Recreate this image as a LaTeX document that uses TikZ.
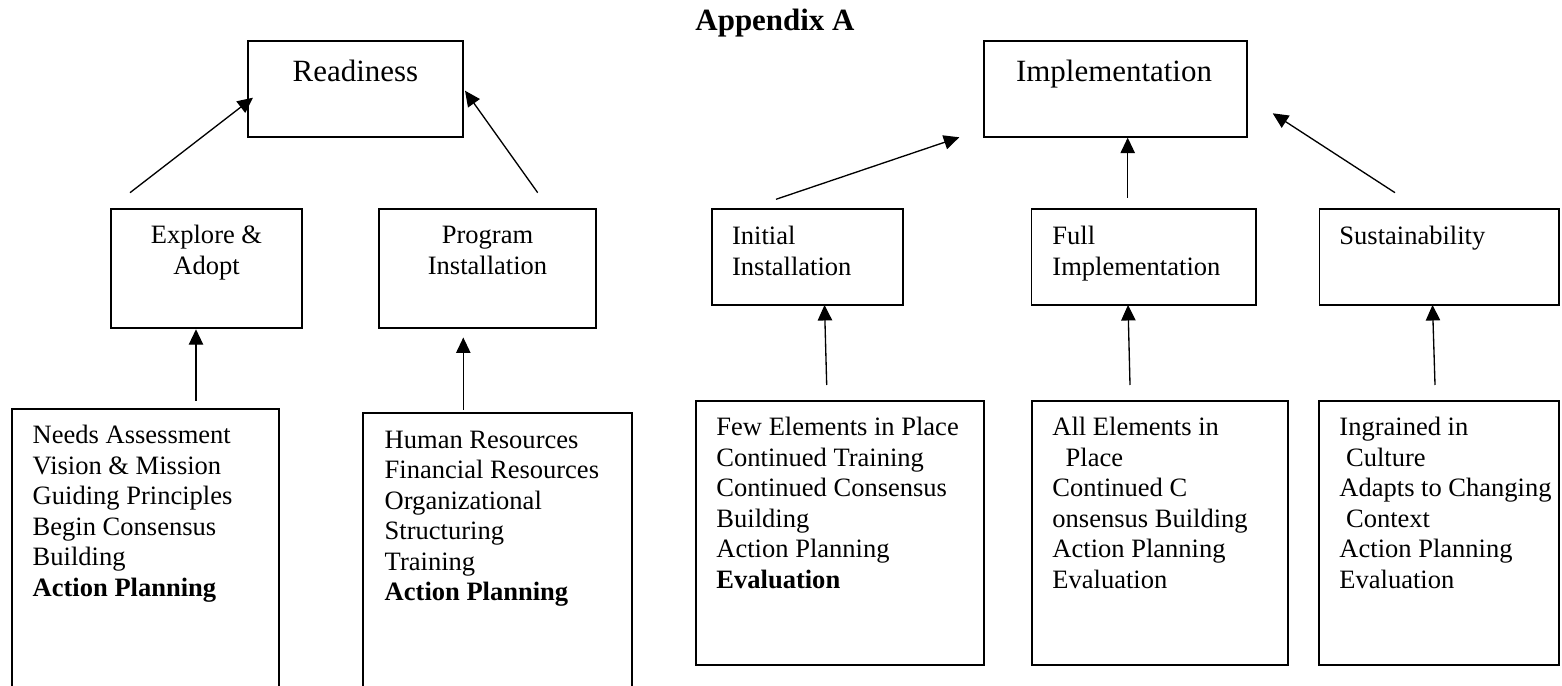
\documentclass[tikz,border=0pt]{standalone}
\usepackage{fontspec}
\setmainfont{Liberation Serif}
\usetikzlibrary{arrows.meta,fit}
\begin{document}
\begin{tikzpicture}[x=0.4525pt,y=-0.4525pt,
  box/.style={draw, line width=0.85pt, inner sep=0pt},
  arr/.style={-{Triangle[length=7pt,width=6.5pt]}, line width=0.6pt},
  body/.style={font=\fontsize{12}{13.8}\selectfont, inner sep=0pt},
  title/.style={font=\fontsize{14}{16}\selectfont, inner sep=0pt, anchor=base}]
\useasboundingbox (0,0) rectangle (1562,686);

% heading
\node[title, font=\fontsize{14}{16}\selectfont\bfseries] (app) at (775,31) {Appendix A};

% top boxes
\node[box, fit={(247.7,40.7) (463,136.7)}] (ready) {};
\node[box, fit={(983.7,40.7) (1247.3,136.7)}] (impl) {};
\node[title] (readyt) at (355.4,81.7) {Readiness};
\node[title] (implt) at (1114,81.7) {Implementation};

% middle boxes
\node[box, fit={(111,209) (302,328.3)}] (explore) {};
\node[box, fit={(379.3,209) (596,328.3)}] (program) {};
\node[box, fit={(711.7,209.3) (903.3,305)}] (initial) {};
\node[box, fit={(1031.5,209.3) (1255.8,305)}] (full) {};
\node[box, fit={(1319.5,209.3) (1559.3,305)}] (sust) {};

\node[body, anchor=base] (exploret) at (206.5,244) {\begin{tabular}[t]{@{}c@{}}Explore \&\\Adopt\end{tabular}};
\node[body, anchor=base] (programt) at (487.5,244) {\begin{tabular}[t]{@{}c@{}}Program\\Installation\end{tabular}};
\node[body, anchor=base west] (initialt) at (731.7,245) {\begin{tabular}[t]{@{}l@{}}Initial\\Installation\end{tabular}};
\node[body, anchor=base west] (fullt) at (1052,245) {\begin{tabular}[t]{@{}l@{}}Full\\Implementation\end{tabular}};
\node[body, anchor=base west] (sustt) at (1339,245) {Sustainability};

% bottom boxes
\node[box, fit={(11.7,409.3) (279.3,720)}] (b1) {};
\node[box, fit={(363.3,412.7) (631.7,720)}] (b2) {};
\node[box, fit={(695.7,400.7) (984,665)}] (b3) {};
\node[box, fit={(1032,400.7) (1288,665)}] (b4) {};
\node[box, fit={(1319.3,400.7) (1559.3,665)}] (b5) {};

\node[body, anchor=base west] (b1t) at (32.3,444) {\begin{tabular}[t]{@{}l@{}}Needs Assessment\\Vision \& Mission\\Guiding Principles\\Begin Consensus\\Building\\\textbf{Action Planning}\end{tabular}};
\node[body, anchor=base west] (b2t) at (384.3,448.3) {\begin{tabular}[t]{@{}l@{}}Human Resources\\Financial Resources\\Organizational\\Structuring\\Training\\\textbf{Action Planning}\end{tabular}};
\node[body, anchor=base west] (b3t) at (716,436) {\begin{tabular}[t]{@{}l@{}}Few Elements in Place\\Continued Training\\Continued Consensus\\Building\\Action Planning\\\textbf{Evaluation}\end{tabular}};
\node[body, anchor=base west] (b4t) at (1052,436) {\begin{tabular}[t]{@{}l@{}}All Elements in\\\hspace*{6pt}Place\\Continued C\\onsensus Building\\Action Planning\\Evaluation\end{tabular}};
\node[body, anchor=base west] (b5t) at (1339,436) {\begin{tabular}[t]{@{}l@{}}Ingrained in\\\hspace*{3pt}Culture\\Adapts to Changing\\\hspace*{3pt}Context\\Action Planning\\Evaluation\end{tabular}};

% connector coordinates
\coordinate (s1) at (130,192.7);   \coordinate (e1) at (253,97.7);
\coordinate (s2) at (537.7,192.7); \coordinate (e2) at (465,90.7);
\coordinate (s3) at (196,401);
\coordinate (s4) at (463.3,410);   \coordinate (e4) at (463.3,337.5);
\coordinate (s5) at (776,199.3);   \coordinate (e5) at (959.3,137.3);
\coordinate (s6) at (1127.7,197.7);
\coordinate (s7) at (1395,192.7);  \coordinate (e7) at (1272.7,113.3);
\coordinate (s8) at (826.7,385);   \coordinate (e8) at (824.5,305);
\coordinate (s9) at (1130,385);    \coordinate (e9) at (1128,305);
\coordinate (s10) at (1435,385);   \coordinate (e10) at (1432.5,305);

\draw[arr] (s1) -- (e1);
\draw[arr] (s2) -- (e2);
\draw[arr] (s3) -- (s3 |- explore.south);
\draw[arr] (s4) -- (e4);
\draw[arr] (s5) -- (e5);
\draw[arr] (s6) -- (s6 |- impl.south);
\draw[arr] (s7) -- (e7);
\draw[arr] (s8) -- (e8);
\draw[arr] (s9) -- (e9);
\draw[arr] (s10) -- (e10);
\end{tikzpicture}
\end{document}
